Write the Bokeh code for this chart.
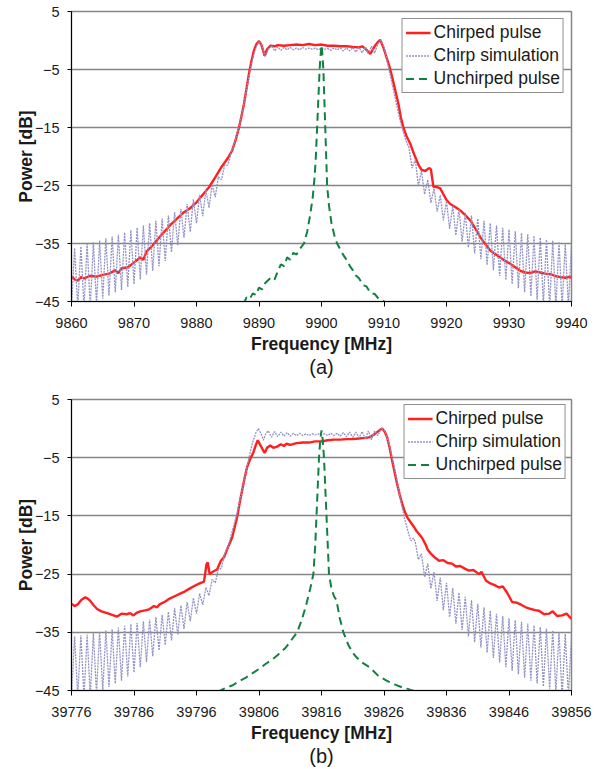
from bokeh.plotting import figure
from bokeh.layouts import column
from bokeh.models import FixedTicker, Legend, LegendItem, Title, Range1d
from bokeh.embed import file_html
from bokeh.resources import INLINE

FONT = "Liberation Sans"

# ---------------- data (a) ----------------
x_ticks_a = [9860, 9870, 9880, 9890, 9900, 9910, 9920, 9930, 9940]
y_ticks = [5, -5, -15, -25, -35, -45]

chirp_a_f = [9860, 9860.5, 9861, 9861.5, 9862, 9863, 9864, 9865, 9866, 9867, 9867.5, 9868, 9869, 9870,
             9871, 9871.5, 9872, 9873, 9874, 9875, 9876, 9877, 9878, 9879, 9880, 9881, 9882, 9883, 9884,
             9885, 9885.7, 9886.3, 9886.8, 9887.2, 9887.6, 9888, 9888.4, 9888.8, 9889.2, 9889.6, 9890,
             9890.4, 9890.9, 9891.3, 9891.8, 9892.5, 9893, 9894, 9895, 9896, 9897, 9898, 9899, 9900,
             9901, 9902, 9903, 9904, 9905, 9906, 9906.5, 9907, 9907.8, 9908.5, 9909, 9909.4, 9909.9,
             9910.4, 9910.9, 9911.3, 9911.8, 9912.3, 9912.7, 9913.1, 9913.6, 9914.2, 9914.6, 9915,
             9915.5, 9916, 9916.6, 9917.2, 9917.5, 9917.9, 9918.5, 9919, 9919.5, 9920, 9920.6, 9921.4,
             9922.2, 9923, 9923.8, 9924.6, 9925.4, 9926.2, 9927, 9927.8, 9928.6, 9929.4, 9930.2, 9931,
             9931.8, 9932.6, 9933.4, 9934.2, 9935, 9935.8, 9936.6, 9937.4, 9938.2, 9939, 9939.8, 9940]
chirp_a_p = [-40.7, -41.2, -41.4, -40.8, -41.0, -40.6, -40.7, -40.4, -40.2, -39.6, -40.1, -39.3, -39.1, -38.3,
             -37.4, -37.8, -36.4, -35.3, -34.0, -32.8, -31.6, -30.6, -29.6, -28.9, -27.9, -26.6, -25.3, -23.6, -21.8,
             -20.3, -19.0, -17.0, -15.0, -13.0, -10.9, -8.3, -5.7, -3.5, -1.7, -0.6, -0.1,
             -0.8, -2.6, -1.5, -0.9, -1.0, -0.8, -0.9, -0.8, -0.7, -0.8, -0.6, -0.8, -0.7,
             -0.9, -0.9, -1.0, -1.0, -1.1, -1.2, -1.0, -1.4, -2.3, -1.0, -0.3, 0.1, -1.2,
             -2.9, -4.6, -6.3, -8.6, -10.9, -13.3, -15.0, -16.5, -17.8, -19.0, -20.1,
             -21.4, -22.3, -22.5, -22.0, -22.2, -25.2, -25.3, -25.5, -26.5, -27.5, -28.2, -28.7,
             -29.3, -30.1, -31.0, -32.4, -33.9, -35.1, -36.2, -36.8, -37.4, -38.0, -38.5, -39.1,
             -39.7, -40.0, -40.1, -39.8, -40.0, -40.2, -40.3, -40.6, -40.8, -40.9, -40.7, -41.0]

sim_a_f = [9860, 9860.5, 9861, 9861.5, 9862, 9862.5, 9863, 9863.5, 9864, 9864.5, 9865, 9865.5, 9866, 9866.5,
           9867, 9867.5, 9868, 9868.5, 9869, 9869.5, 9870, 9870.5, 9871, 9871.5, 9872, 9872.5, 9873, 9873.5,
           9874, 9874.5, 9875, 9875.5, 9876, 9876.5, 9877, 9877.5, 9878, 9878.5, 9879, 9879.5, 9880, 9880.5,
           9881, 9881.5, 9882, 9882.5, 9883, 9883.5, 9884, 9884.5,
           9885, 9885.5, 9886, 9886.5, 9887, 9887.5, 9888, 9888.5, 9889, 9889.5, 9890, 9890.5, 9891, 9891.5,
           9892, 9892.5, 9893, 9893.5, 9894, 9894.5, 9895, 9895.5, 9896, 9896.5, 9897, 9897.5, 9898, 9898.5,
           9899, 9899.5, 9900, 9900.5, 9901, 9901.5, 9902, 9902.5, 9903, 9903.5, 9904, 9904.5, 9905, 9905.5,
           9906, 9906.5, 9907, 9907.5, 9908, 9908.5, 9909, 9909.5, 9910, 9910.5, 9911, 9911.5, 9912, 9912.5,
           9913, 9913.5,
           9914, 9914.5, 9915, 9915.5, 9916, 9916.5, 9917, 9917.5, 9918, 9918.5, 9919, 9919.5, 9920, 9920.5,
           9921, 9921.5, 9922, 9922.5, 9923, 9923.5, 9924, 9924.5, 9925, 9925.5, 9926, 9926.5, 9927, 9927.5,
           9928, 9928.5, 9929, 9929.5, 9930, 9930.5, 9931, 9931.5, 9932, 9932.5, 9933, 9933.5, 9934, 9934.5,
           9935, 9935.5, 9936, 9936.5, 9937, 9937.5, 9938, 9938.5, 9939, 9939.5, 9940]
sim_a_p = [-46, -35.8, -46, -35.5, -46, -35.1, -46, -34.8, -45.5, -34.5, -44.5, -34.1, -44.0, -33.8,
           -43.4, -33.5, -43.0, -33.1, -42.5, -32.7, -42.0, -32.3, -41.2, -31.9, -40.4, -31.5, -39.7, -31.1,
           -38.9, -30.7, -38.0, -30.2, -36.5, -29.6, -35.3, -29.0, -34.0, -28.2, -33.0, -27.4, -31.5, -26.6,
           -30.3, -25.8, -28.8, -24.8, -27.0, -23.5, -24.0, -21.5,
           -21.5, -19.5, -18.0, -16.0, -14.0, -11.5, -8.5, -5.5, -3.0, -1.2, -0.2, -1.0, -2.8, -1.5,
           -0.9, -1.8, -1.1, -1.7, -1.2, -1.6, -1.2, -1.6, -1.3, -1.6, -1.2, -1.5, -1.3, -1.5,
           -1.3, -1.6, -1.3, -1.5, -1.4, -1.7, -1.3, -1.6, -1.3, -1.8, -1.3, -1.8, -1.2, -2.0,
           -1.2, -2.1, -1.1, -2.3, -1.0, -2.2, -0.6, 0.0, -1.2, -3.5, -6.0, -8.5, -11.0, -13.5,
           -15.5, -17.2,
           -18.5, -22.0, -20.5, -25.0, -22.5, -26.5, -24.0, -28.0, -25.5, -29.5, -26.7, -31.0, -27.7, -32.5,
           -28.5, -33.6, -29.1, -34.7, -29.7, -35.7, -30.2, -36.7, -30.7, -37.7, -31.1, -38.7, -31.5, -39.6,
           -31.9, -40.6, -32.3, -41.3, -32.6, -42.0, -32.9, -42.7, -33.2, -43.4, -33.4, -44.1, -33.7, -44.7,
           -34.0, -45.5, -34.3, -46, -34.5, -46, -34.7, -46, -34.9, -46, -35.1]

unchirp_a_f = [9887.5, 9888, 9888.5, 9889, 9889.5, 9890, 9890.5, 9891, 9892, 9892.5, 9893, 9893.5, 9894,
               9894.5, 9895, 9895.5, 9896, 9896.5, 9897.2, 9897.7, 9898.2, 9898.6, 9898.9, 9899.1, 9899.3,
               9899.5, 9899.7, 9899.85, 9900, 9900.15, 9900.3, 9900.45, 9900.6, 9900.75, 9900.9, 9901.2,
               9901.6, 9902.1, 9902.5, 9903, 9903.5, 9904, 9904.6, 9905, 9905.5, 9906, 9906.7, 9907.2,
               9907.8, 9908.5, 9909.2, 9910, 9910.5]
unchirp_a_p = [-45.5, -44.3, -44.6, -43.6, -43.9, -42.6, -42.9, -41.8, -40.8, -41.2, -39.8, -38.6, -38.9,
               -37.4, -37.8, -36.6, -36.9, -36.0, -35.0, -33.0, -30.0, -27.0, -23.5, -20.0, -15.0,
               -10.0, -5.0, -2.5, -0.8, -2.5, -5.0, -10.0, -15.0, -20.0, -25.0, -28.5,
               -31.5, -33.8, -35.0, -36.0, -37.0, -37.8, -39.0, -39.6, -40.5, -41.0, -42.2, -42.4,
               -43.5, -43.7, -44.6, -45.0, -45.5]

# ---------------- data (b) ----------------
x_ticks_b = [39776, 39786, 39796, 39806, 39816, 39826, 39836, 39846, 39856]

chirp_b_f = [39776, 39776.5, 39777, 39777.6, 39778.2, 39778.6, 39779, 39779.5, 39780.1, 39780.8, 39781.7,
             39782.5, 39783.3, 39784, 39784.8, 39785.4, 39785.9, 39786.5, 39787, 39788, 39788.5, 39789.2,
             39789.7, 39790.1, 39791, 39791.7, 39792.5, 39793.3, 39794.1, 39794.9, 39795.7, 39796.5,
             39797.2, 39797.6, 39797.8, 39798.1, 39798.6, 39799.3, 39799.9, 39800.4, 39801, 39801.7,
             39802.1, 39802.5, 39802.9, 39803.3, 39803.7, 39804.1, 39804.6, 39805.1, 39805.5, 39805.8,
             39806.3, 39806.9, 39807.3, 39807.8, 39808.3, 39808.9, 39809.5, 39810, 39810.4, 39811, 39812,
             39813, 39814, 39815, 39816, 39817, 39818, 39819, 39820, 39821, 39822, 39823, 39823.6, 39824.3,
             39824.9, 39825.4, 39825.7, 39826.1, 39826.5, 39826.9, 39827.3, 39827.7, 39828.1, 39828.5,
             39828.9, 39829.3, 39829.7, 39830.2, 39830.8, 39831.2, 39831.6, 39832.1, 39832.6, 39833,
             39833.5, 39834.2, 39834.8, 39835.5, 39836.2, 39836.9, 39837.5, 39838.2, 39839, 39839.6,
             39840.3, 39841.2, 39841.6, 39842.3, 39843, 39843.7, 39844.4, 39845, 39845.7, 39846.5,
             39847.2, 39848, 39848.7, 39849.5, 39850.2, 39850.8, 39851.6, 39852.4, 39853, 39853.7,
             39854.5, 39855.2, 39856]
chirp_b_p = [-30.1, -30.5, -30.2, -29.4, -29.0, -29.2, -29.6, -30.3, -31.0, -31.4, -31.7,
             -32.0, -32.3, -31.8, -31.9, -31.7, -32.1, -31.6, -31.4, -31.2, -31.0, -30.5,
             -30.7, -30.2, -29.7, -29.2, -28.8, -28.4, -28.0, -27.5, -27.0, -26.6,
             -26.3, -23.3, -23.0, -25.0, -24.6, -24.2, -22.7, -22.1, -20.5, -18.7,
             -17.0, -15.2, -12.8, -10.6, -8.5, -6.6, -5.2, -4.1, -2.8, -2.0,
             -3.0, -4.2, -3.3, -2.9, -3.3, -3.1, -2.7, -3.0, -2.6, -2.8, -2.5,
             -2.4, -2.4, -2.2, -2.2, -2.0, -1.9, -1.9, -1.8, -1.8, -1.7, -1.6, -1.5, -1.1,
             -0.6, -0.2, 0.0, -0.5, -1.5, -3.3, -5.5, -7.5, -9.5, -11.3,
             -12.9, -14.2, -15.2, -16.0, -16.9, -17.6, -18.1, -18.8, -19.8, -20.8,
             -21.5, -22.2, -22.7, -22.6, -23.1, -23.2, -23.7, -23.6, -24.1, -24.4,
             -24.3, -25.0, -24.6, -26.1, -26.6, -26.9, -27.3, -27.1, -28.2, -29.8,
             -29.9, -30.3, -30.7, -31.0, -31.2, -31.3, -31.9, -31.8, -31.4, -32.2,
             -32.1, -31.8, -32.7]

sim_b_f = [39776, 39776.5, 39777, 39777.5, 39778, 39778.5, 39779, 39779.5, 39780, 39780.5, 39781, 39781.5,
           39782, 39782.5, 39783, 39783.5, 39784, 39784.5, 39785, 39785.5, 39786, 39786.5, 39787, 39787.5,
           39788, 39788.5, 39789, 39789.5, 39790, 39790.5, 39791, 39791.5, 39792, 39792.5, 39793, 39793.5,
           39794, 39794.5, 39795, 39795.5, 39796, 39796.5, 39797, 39797.5, 39798, 39798.5, 39799, 39799.5,
           39800, 39800.5,
           39801, 39801.5, 39802, 39802.5, 39803, 39803.5, 39804, 39804.5, 39805, 39805.5, 39805.9, 39806.3,
           39806.7, 39807.1, 39807.5, 39808, 39808.5, 39809, 39809.5, 39810, 39810.5, 39811, 39811.5, 39812,
           39812.5, 39813, 39813.5, 39814, 39814.5, 39815, 39815.5, 39816, 39816.5, 39817, 39817.5, 39818,
           39818.5, 39819, 39819.5, 39820, 39820.5, 39821, 39821.5, 39822, 39822.5, 39823, 39823.5, 39824,
           39824.5, 39825, 39825.6, 39826.2, 39826.8, 39827.3, 39827.8, 39828.3, 39828.8, 39829.3, 39829.8,
           39830.3, 39830.7,
           39831, 39831.5, 39832, 39832.5, 39833, 39833.5, 39834, 39834.5, 39835, 39835.5, 39836, 39836.5,
           39837, 39837.5, 39838, 39838.5, 39839, 39839.5, 39840, 39840.5, 39841, 39841.5, 39842, 39842.5,
           39843, 39843.5, 39844, 39844.5, 39845, 39845.5, 39846, 39846.5, 39847, 39847.5, 39848, 39848.5,
           39849, 39849.5, 39850, 39850.5, 39851, 39851.5, 39852, 39852.5, 39853, 39853.5, 39854, 39854.5,
           39855, 39855.5, 39856]
sim_b_p = [-46, -35.7, -46, -35.5, -46, -35.4, -46, -35.1, -45.5, -34.9, -45.0, -34.7,
           -44.4, -34.5, -43.8, -34.2, -43.3, -33.9, -42.6, -33.6, -41.9, -33.4, -41.0, -33.1,
           -40.1, -32.8, -39.1, -32.4, -38.1, -32.0, -37.2, -31.5, -36.4, -30.9, -35.4, -30.4,
           -34.4, -29.8, -33.1, -29.1, -31.8, -28.3, -30.3, -27.3, -28.7, -25.9, -26.5, -24.2,
           -24.0, -21.5,
           -20.5, -18.5, -16.5, -14.5, -12.0, -9.5, -7.0, -4.5, -2.3, -0.7, 0.0, -0.8,
           -2.0, -0.8, -0.4, -1.5, -0.5, -1.4, -0.6, -1.3, -0.7, -1.3, -0.8, -1.2,
           -0.8, -1.2, -0.9, -1.2, -0.9, -1.1, -0.9, -1.1, -0.9, -1.2, -0.8, -1.2,
           -0.8, -1.3, -0.7, -1.4, -0.6, -1.5, -0.6, -1.6, -0.5, -1.8, -0.4, -1.9,
           -0.4, -1.2, 0.0, -0.5, -2.5, -5.0, -7.5, -10.3, -13.0, -15.5, -17.5,
           -19.3, -18.8,
           -19.5, -22.5, -21.5, -25.5, -23.2, -27.5, -24.6, -29.6, -25.6, -31.2, -26.5, -32.4,
           -27.4, -33.5, -28.2, -34.6, -28.9, -35.7, -29.5, -36.7, -30.1, -37.6, -30.7, -38.5,
           -31.3, -39.4, -31.8, -40.2, -32.2, -41.0, -32.6, -41.6, -32.9, -42.2, -33.2, -42.8,
           -33.5, -43.3, -33.8, -43.8, -34.1, -44.3, -34.4, -44.8, -34.7, -45.3, -35.0, -46,
           -35.3, -46, -35.6]

unchirp_b_f = [39799.4, 39800, 39801, 39801.8, 39802.8, 39803.9, 39805, 39806, 39807.1, 39808, 39809,
               39810.3, 39811, 39812.1, 39812.8, 39813.5, 39814.2, 39814.7, 39815, 39815.2, 39815.4,
               39815.6, 39815.8, 39816, 39816.2, 39816.4, 39816.6, 39816.8, 39817, 39817.2, 39817.6,
               39818, 39818.4, 39818.9, 39819.5, 39820.3, 39821, 39821.6, 39822.5, 39823.7, 39825,
               39826.4, 39827.8, 39829, 39830, 39831.2]
unchirp_b_p = [-45.3, -44.9, -44.4, -44.1, -43.4, -42.8, -42.0, -41.3, -40.4, -39.8, -38.9,
               -37.6, -36.6, -35.0, -33.0, -30.5, -27.5, -25.0, -20.0, -15.0, -10.0,
               -5.0, -2.0, -0.3, -2.0, -5.0, -10.0, -15.0, -20.0, -25.0, -27.5,
               -28.8, -29.5, -32.5, -35.0, -37.2, -38.5, -39.3, -40.2, -41.0, -42.4,
               -43.3, -44.0, -44.5, -44.8, -45.2]

labels = ["Chirped pulse", "Chirp simulation", "Unchirped pulse"]

RED = "#ff1f1f"
SIM = "#9292c6"
GREEN = "#118040"
GRID = "#858585"
TXT = "#1a1a1a"


def make_plot(xr, xt, cf, cp, sf, sp, uf, up, tag, height, btop, bbot, bright, legend_margin):
    p = figure(width=600, height=height, output_backend="svg", toolbar_location=None,
               x_range=Range1d(xr[0], xr[1]), y_range=Range1d(-45, 5),
               min_border_left=71, min_border_right=bright, min_border_top=btop,
               min_border_bottom=bbot)
    p.outline_line_color = GRID
    p.outline_line_width = 1.5
    p.background_fill_color = "white"
    p.border_fill_color = "white"
    p.xgrid.visible = False
    p.ygrid.ticker = FixedTicker(ticks=y_ticks)
    p.ygrid.grid_line_color = GRID
    p.ygrid.grid_line_width = 1.5
    p.xaxis.ticker = FixedTicker(ticks=xt)
    p.yaxis.ticker = FixedTicker(ticks=y_ticks)
    for ax in (p.xaxis[0], p.yaxis[0]):
        ax.axis_line_color = "black"
        ax.axis_line_width = 1
        ax.major_tick_line_color = "black"
        ax.major_tick_in = 0
        ax.minor_tick_line_color = None
        ax.major_label_text_font = FONT
        ax.major_label_text_font_size = "14.5px"
        ax.major_label_text_color = TXT
        ax.axis_label_text_font = FONT
        ax.axis_label_text_font_size = "17.5px"
        ax.axis_label_text_font_style = "bold"
        ax.axis_label_text_color = TXT
    p.xaxis.major_tick_out = 5
    p.yaxis.major_tick_out = 4
    p.xaxis.major_label_standoff = 11
    p.yaxis.major_label_standoff = 8
    p.xaxis.axis_label = "Frequency [MHz]"
    p.yaxis.axis_label = "Power [dB]"
    p.xaxis.axis_label_standoff = 3
    p.yaxis.axis_label_standoff = -4

    r1 = p.line(cf, cp, line_color=RED, line_width=2.4)
    r2 = p.line(sf, sp, line_color=SIM, line_width=1.3, line_dash="2 1")
    r3 = p.line(uf, up, line_color=GREEN, line_width=2, line_dash="8 5")

    leg = Legend(items=[LegendItem(label=labels[0], renderers=[r1]),
                        LegendItem(label=labels[1], renderers=[r2]),
                        LegendItem(label=labels[2], renderers=[r3])],
                 location="top_right")
    leg.margin = legend_margin
    leg.padding = 3
    leg.spacing = 2
    leg.label_height = 21
    leg.glyph_height = 21
    leg.glyph_width = 25
    leg.label_standoff = 3
    leg.label_text_font = FONT
    leg.label_text_font_size = "17.5px"
    leg.label_text_color = TXT
    leg.border_line_color = "#222222"
    leg.border_line_width = 1
    leg.background_fill_alpha = 1
    p.add_layout(leg)

    t = Title(text=tag, align="center", text_font=FONT, text_font_size="20px",
              text_font_style="normal", text_color=TXT, standoff=-5)
    p.add_layout(t, "below")
    return p


pa = make_plot((9860, 9940), x_ticks_a, chirp_a_f, chirp_a_p, sim_a_f, sim_a_p,
               unchirp_a_f, unchirp_a_p, "(a)", 380, 11, 79, 29, 7)
pb = make_plot((39776, 39856), x_ticks_b, chirp_b_f, chirp_b_p, sim_b_f, sim_b_p,
               unchirp_b_f, unchirp_b_p, "(b)", 389, 19, 79, 28, 5)

layout = column(pa, pb, spacing=0)
open("out.html", "w").write(file_html(layout, INLINE))
